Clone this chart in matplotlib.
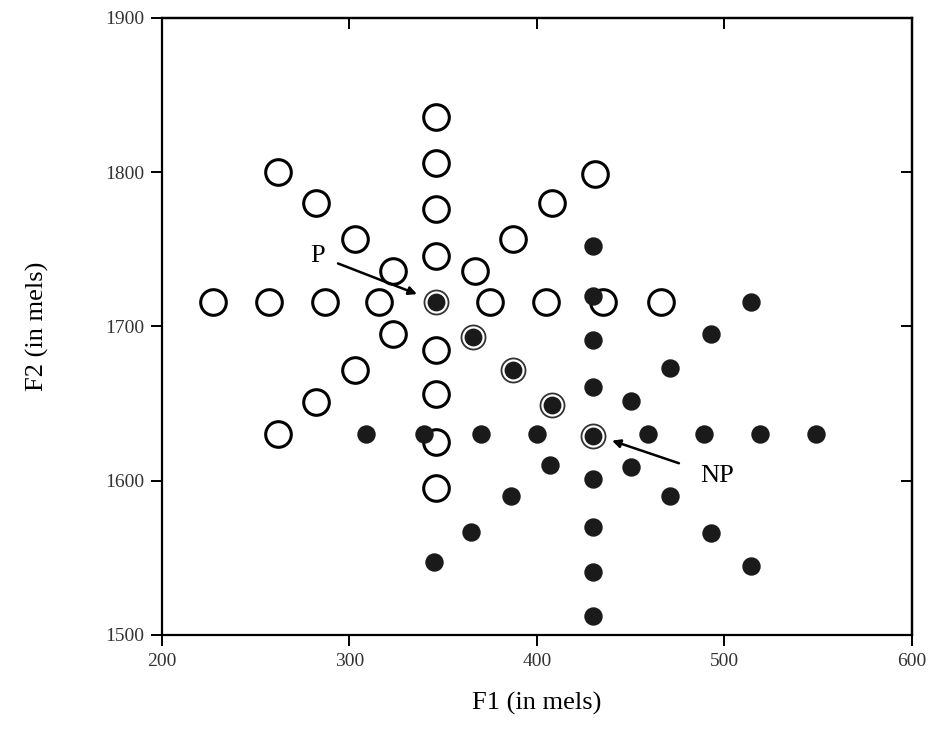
import matplotlib.pyplot as plt

# open circles: star centred on P
open_f1 = [346, 346, 346, 346, 346, 346, 346, 346,
           227, 257, 287, 316, 375, 405, 435, 466,
           262, 282, 303, 323,
           367, 387, 408, 431,
           323, 303, 282, 262]
open_f2 = [1836, 1806, 1776, 1746, 1685, 1656, 1625, 1595,
           1716, 1716, 1716, 1716, 1716, 1716, 1716, 1716,
           1800, 1780, 1757, 1736,
           1736, 1757, 1780, 1799,
           1695, 1672, 1651, 1630]

# filled dots: star centred on NP
fill_f1 = [430, 430, 430, 430, 430, 430, 430, 430,
           309, 340, 370, 400, 459, 489, 519, 549,
           450, 471, 493, 514,
           450, 471, 493, 514,
           407, 386, 365, 345]
fill_f2 = [1752, 1720, 1691, 1661, 1601, 1570, 1541, 1512,
           1630, 1630, 1630, 1630, 1630, 1630, 1630, 1630,
           1609, 1590, 1566, 1545,
           1652, 1673, 1695, 1716,
           1610, 1590, 1567, 1547]

# points shared by both stars (P ... NP)
both_f1 = [346, 366, 387, 408, 430]
both_f2 = [1716, 1693, 1672, 1649, 1629]

xticks = [200, 300, 400, 500, 600]
yticks = [1500, 1600, 1700, 1800, 1900]

plt.rcParams['font.family'] = ['Liberation Serif', 'DejaVu Serif']

fig = plt.figure(figsize=(9.5, 7.46), dpi=100)
ax = fig.add_axes([0.1705, 0.1488, 0.7895, 0.8271])

ax.scatter(open_f1, open_f2, s=340, facecolors='white', edgecolors='black',
           linewidths=2.2, zorder=3)
ax.scatter(fill_f1, fill_f2, s=150, color='#1a1a1a', zorder=3)
ax.scatter(both_f1, both_f2, s=300, facecolors='white', edgecolors='#333333',
           linewidths=1.3, zorder=4)
ax.scatter(both_f1, both_f2, s=140, color='#1a1a1a', zorder=5)

ax.set_xlim(200, 600)
ax.set_ylim(1500, 1900)
ax.set_xticks(xticks)
ax.set_yticks(yticks)

for side in ['left', 'right', 'top', 'bottom']:
    ax.spines[side].set_linewidth(1.6)

ax.tick_params(axis='both', direction='out', length=8, width=1.4,
               labelsize=14, labelcolor='#333333', pad=5)

# inward ticks on top and right, no labels
top = ax.secondary_xaxis('top')
top.set_xticks(xticks[1:-1], labels=[])
top.tick_params(direction='in', length=8, width=1.4)
right = ax.secondary_yaxis('right')
right.set_yticks(yticks[1:-1], labels=[])
right.tick_params(direction='in', length=8, width=1.4)
for sec in (top, right):
    for s in sec.spines.values():
        s.set_linewidth(1.6)

ax.set_xlabel('F1 (in mels)', fontsize=19, labelpad=16)
ax.set_ylabel('F2 (in mels)', fontsize=19, labelpad=40)

ax.annotate('P', xy=(336, 1721), xytext=(283, 1746), fontsize=19,
            ha='center', va='center',
            arrowprops=dict(arrowstyle='-|>', color='black', lw=1.8,
                            shrinkA=8, shrinkB=0, mutation_scale=12))
ax.annotate('NP', xy=(440, 1626), xytext=(496, 1603), fontsize=19,
            ha='center', va='center',
            arrowprops=dict(arrowstyle='-|>', color='black', lw=1.8,
                            shrinkA=14, shrinkB=0, mutation_scale=12))

fig.savefig('out.png', dpi=100, facecolor='white')
